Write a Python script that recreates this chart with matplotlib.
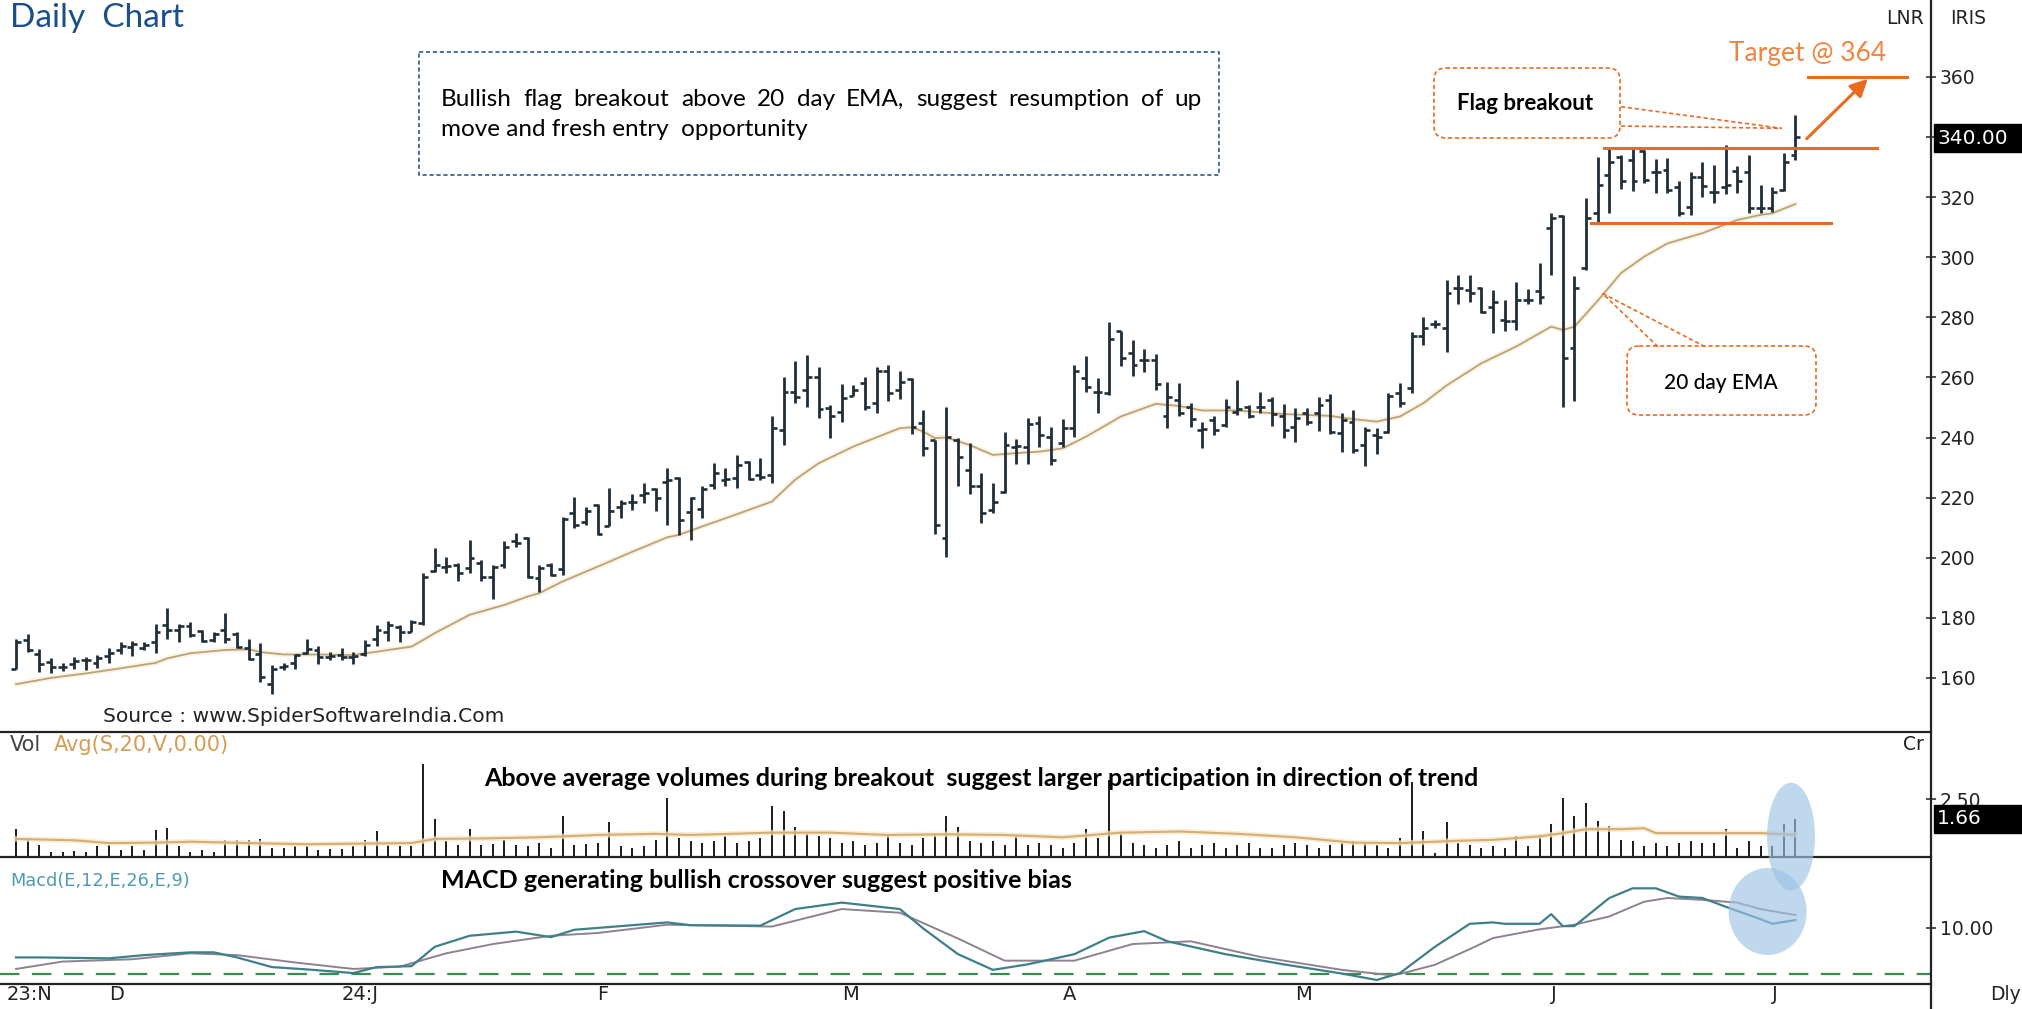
#!/usr/bin/env python3
"""Daily bar chart with 20 day EMA, volume and MACD panels and a flag breakout note."""

import matplotlib
matplotlib.use("Agg")
import matplotlib.pyplot as plt
from matplotlib.transforms import Affine2D
from matplotlib.patches import Rectangle, FancyBboxPatch, Ellipse
from matplotlib.lines import Line2D
import numpy as np

plt.rcParams["lines.scale_dashes"] = False

# ── Data (one value per trading day, 20 Nov 2023 .. 3 Jul 2024) ───────────────

opens = [
    163.0, 172.6, 168.1, 165.4, 163.7, 164.6, 166.0, 165.0, 167.2, 169.2,
    170.4, 170.1, 172.0, 177.6, 176.1, 177.2, 175.7, 172.6, 176.1, 174.6,
    169.8, 168.1, 158.1, 163.6, 164.8, 168.4, 169.2, 166.8, 167.6, 167.0,
    168.1, 173.1, 175.4, 177.1, 175.4, 178.2, 195.7, 197.0, 197.6, 196.5,
    198.2, 193.7, 197.6, 205.4, 206.5, 193.2, 197.6, 196.2, 215.0, 212.0,
    217.6, 210.6, 217.0, 218.7, 220.9, 222.8, 225.1, 226.4, 215.3, 216.1,
    224.2, 225.9, 226.4, 232.0, 227.5, 227.5, 242.5, 255.3, 255.8, 260.3,
    249.7, 248.6, 253.8, 258.3, 251.4, 262.0, 255.8, 259.4, 244.8, 239.2,
    206.5, 239.2, 229.2, 223.7, 215.9, 222.0, 236.8, 237.0, 244.7, 240.3,
    238.3, 243.1, 259.7, 255.3, 254.7, 275.3, 268.0, 265.8, 265.8, 247.0,
    252.5, 250.3, 242.5, 245.9, 244.2, 248.6, 250.3, 250.3, 252.5, 247.0,
    243.6, 248.3, 248.1, 252.5, 241.4, 245.3, 237.5, 240.9, 242.0, 254.7,
    256.4, 273.8, 277.8, 276.4, 289.7, 289.1, 289.7, 283.6, 279.1, 278.9,
    285.8, 288.6, 309.6, 313.7, 269.7, 296.3, 314.6, 327.4, 333.3, 332.2,
    335.5, 328.5, 329.1, 323.5, 316.6, 326.6, 321.8, 323.5, 328.8, 328.5,
    316.3, 316.3, 322.4, 334.0,
]
highs = [
    172.8, 174.5, 169.5, 166.5, 165.0, 166.8, 167.0, 167.6, 170.1, 172.0,
    172.4, 172.0, 178.1, 183.1, 178.1, 178.7, 176.1, 175.4, 181.7, 175.4,
    172.8, 171.7, 164.2, 165.0, 168.1, 172.8, 170.6, 168.7, 170.0, 168.7,
    172.6, 177.6, 179.1, 177.6, 179.3, 194.8, 203.2, 200.1, 198.2, 205.9,
    199.3, 197.6, 205.4, 208.2, 206.8, 197.6, 198.2, 213.7, 220.3, 217.0,
    217.9, 223.1, 219.2, 221.2, 224.8, 223.1, 229.8, 227.0, 220.3, 223.7,
    231.6, 229.8, 234.2, 232.3, 233.1, 247.0, 260.3, 265.3, 267.5, 263.6,
    250.8, 257.8, 257.5, 260.3, 263.6, 264.2, 262.0, 259.7, 249.2, 239.2,
    250.3, 239.8, 238.1, 228.1, 225.0, 242.0, 239.4, 246.4, 247.2, 243.6,
    246.1, 264.2, 267.0, 259.7, 278.6, 275.6, 272.5, 269.4, 267.7, 258.6,
    258.1, 251.6, 245.3, 247.0, 252.7, 259.2, 250.8, 255.3, 253.6, 251.2,
    249.7, 249.7, 253.6, 254.5, 248.1, 249.0, 243.6, 243.1, 254.7, 258.1,
    275.2, 280.0, 279.1, 292.5, 294.1, 294.1, 290.2, 289.1, 285.8, 291.9,
    289.3, 298.0, 314.6, 314.1, 293.6, 319.6, 333.5, 336.3, 334.0, 335.9,
    335.7, 332.6, 332.9, 325.2, 328.2, 331.8, 330.7, 337.4, 330.2, 334.0,
    324.1, 323.5, 334.8, 347.4,
]
lows = [
    162.8, 168.7, 162.0, 161.7, 162.4, 163.1, 162.6, 163.4, 165.0, 167.9,
    167.2, 169.2, 168.4, 173.1, 172.0, 173.5, 172.0, 172.0, 171.5, 169.8,
    165.9, 158.7, 154.8, 162.6, 162.8, 168.0, 164.6, 165.9, 166.1, 164.6,
    167.3, 170.6, 172.4, 172.1, 175.4, 177.6, 195.4, 195.0, 192.1, 194.8,
    192.1, 186.2, 196.5, 203.7, 193.2, 188.7, 193.9, 194.3, 209.8, 210.9,
    207.6, 210.4, 213.1, 215.9, 218.1, 215.4, 210.9, 207.6, 205.9, 213.1,
    222.8, 223.9, 223.1, 225.9, 225.7, 225.0, 237.5, 251.4, 250.3, 246.4,
    240.0, 245.3, 253.8, 249.3, 248.1, 252.0, 252.7, 241.2, 233.7, 207.9,
    200.4, 223.9, 221.2, 211.5, 214.8, 221.7, 231.2, 231.2, 237.0, 230.9,
    236.8, 240.1, 255.3, 248.1, 254.2, 263.8, 260.5, 261.9, 255.8, 243.1,
    247.0, 243.4, 236.4, 240.9, 243.6, 247.5, 246.4, 248.1, 243.9, 240.0,
    238.6, 244.2, 242.3, 241.2, 235.3, 235.0, 230.6, 234.5, 241.4, 250.3,
    254.7, 270.8, 276.4, 268.6, 284.5, 285.2, 281.3, 274.7, 275.3, 275.8,
    284.5, 284.5, 294.1, 250.3, 252.0, 295.8, 311.5, 314.8, 322.6, 322.2,
    324.8, 321.5, 321.5, 313.7, 314.1, 320.2, 318.0, 321.1, 321.5, 314.6,
    314.6, 315.2, 322.2, 332.4,
]
closes = [
    172.0, 169.2, 164.6, 163.7, 163.7, 165.7, 165.9, 166.5, 168.3, 170.6,
    171.2, 170.9, 175.3, 176.1, 177.2, 174.2, 172.2, 174.6, 173.1, 170.2,
    166.4, 160.4, 163.1, 163.8, 167.6, 169.5, 167.0, 167.2, 167.0, 167.2,
    170.9, 175.9, 177.6, 175.4, 178.7, 193.5, 197.6, 197.2, 195.0, 199.8,
    193.5, 197.0, 203.7, 204.8, 193.5, 196.5, 194.3, 212.8, 210.9, 215.6,
    207.9, 215.6, 218.1, 218.7, 221.4, 219.8, 225.7, 212.6, 219.8, 222.8,
    228.1, 226.1, 230.9, 226.1, 227.0, 243.1, 255.3, 253.6, 260.3, 249.4,
    247.0, 253.1, 255.8, 250.3, 262.0, 254.7, 258.6, 243.6, 236.4, 210.9,
    240.3, 233.6, 223.7, 214.8, 218.7, 237.5, 237.2, 244.5, 240.9, 232.5,
    243.1, 262.0, 256.7, 255.3, 272.7, 266.4, 264.2, 265.8, 257.8, 253.6,
    248.1, 246.1, 242.7, 242.5, 250.3, 249.4, 247.0, 250.3, 247.8, 242.5,
    246.4, 245.3, 250.8, 242.0, 245.8, 235.9, 242.5, 240.3, 253.8, 251.4,
    273.8, 276.4, 277.8, 288.2, 289.7, 288.2, 281.9, 285.2, 278.9, 285.8,
    285.8, 286.9, 313.0, 266.4, 289.7, 313.0, 324.1, 331.8, 325.2, 325.2,
    325.7, 328.5, 322.4, 314.6, 326.6, 323.7, 321.8, 324.1, 325.2, 316.3,
    316.3, 321.8, 331.8, 340.0,
]

# volume in crores
volume = [
    1.20, 0.74, 0.53, 0.20, 0.20, 0.24, 0.20, 0.49, 0.53, 0.31,
    0.49, 0.29, 1.17, 1.24, 0.46, 0.20, 0.29, 0.20, 0.74, 0.74,
    0.74, 0.77, 0.39, 0.39, 0.46, 0.46, 0.31, 0.34, 0.34, 0.46,
    0.74, 1.13, 0.53, 0.49, 0.49, 3.99, 1.63, 0.67, 0.53, 1.20,
    0.53, 0.57, 0.74, 0.53, 0.49, 0.60, 0.39, 1.77, 0.53, 0.57,
    0.60, 1.49, 0.46, 0.39, 0.46, 0.74, 2.53, 0.82, 0.67, 0.60,
    0.70, 0.90, 0.60, 0.70, 0.80, 2.20, 2.00, 1.30, 1.00, 0.90,
    0.80, 0.60, 0.70, 0.50, 0.60, 0.90, 0.60, 0.50, 0.80, 1.00,
    1.75, 1.30, 0.70, 0.60, 0.70, 0.50, 0.90, 0.50, 0.60, 0.50,
    0.40, 0.60, 1.20, 0.80, 3.30, 1.00, 0.60, 0.50, 0.40, 0.50,
    0.70, 0.40, 0.50, 0.60, 0.40, 0.50, 0.60, 0.40, 0.40, 0.50,
    0.60, 0.50, 0.40, 0.50, 0.60, 0.70, 0.60, 0.50, 0.40, 0.80,
    3.24, 1.10, 0.17, 1.49, 0.60, 0.53, 0.39, 0.46, 0.39, 0.89,
    0.46, 0.96, 1.41, 2.53, 1.77, 2.32, 1.57, 1.34, 0.74, 0.67,
    0.49, 0.60, 0.49, 0.60, 0.67, 0.60, 0.60, 1.20, 0.39, 0.67,
    0.46, 0.46, 1.43, 1.66,
]

# 20 day EMA (bar index, value)
ema_idx = [0, 3, 6, 9, 12, 13, 15, 18, 20, 21, 23, 26, 29, 30, 31, 32, 34, 35, 36, 39,
           42, 44, 45, 47, 50, 53, 56, 57, 59, 62, 65, 67, 69, 72, 75, 76, 77, 78, 79, 80,
           82, 84, 86, 88, 90, 92, 93, 95, 98, 100, 102, 105, 109, 113, 115, 117, 119, 121,
           123, 126, 129, 132, 133, 134, 136, 138, 140, 142, 145, 148, 150, 151, 153]
ema_val = [157.9, 160.0, 161.5, 163.2, 165.0, 166.5, 168.2, 169.3, 169.5, 168.6,
           167.8, 167.8, 167.6, 168.2, 168.7, 169.3, 170.4, 172.6, 174.9, 181.0,
           184.3, 187.1, 188.2, 192.1, 197.0, 202.0, 206.8, 207.6, 210.4, 214.5,
           218.7, 226.0, 231.4, 237.0, 241.6, 243.1, 243.4, 242.0, 239.8, 240.0,
           237.5, 234.2, 234.8, 235.3, 236.4, 240.3, 242.5, 247.0, 251.2, 250.5,
           249.0, 249.0, 247.8, 247.2, 246.1, 245.3, 247.0, 251.4, 257.3, 264.7,
           270.3, 276.9, 275.8, 276.9, 285.5, 294.7, 300.2, 304.6, 308.0, 312.4,
           314.1, 314.6, 317.7]

# 20 day simple average of volume
vavg_idx = [0, 5, 8, 12, 15, 20, 25, 30, 34, 36, 40, 45, 50, 55, 58, 65, 70, 75, 80, 85,
            90, 95, 100, 105, 110, 115, 119, 124, 127, 131, 132, 133, 135, 138, 140, 141,
            150, 153]
vavg_val = [0.78, 0.72, 0.60, 0.62, 0.66, 0.60, 0.55, 0.58, 0.60, 0.78, 0.80, 0.85,
            0.95, 1.00, 0.95, 1.05, 1.05, 0.95, 0.98, 0.95, 0.85, 1.05, 1.10, 1.00,
            0.85, 0.62, 0.60, 0.70, 0.74, 0.89, 0.96, 1.03, 1.20, 1.20, 1.24, 1.03,
            1.03, 0.96]

# MACD(12,26) and its 9 day signal
macd_idx = [0, 2, 8, 11, 15, 17, 19, 22, 25, 29, 31, 34, 36, 39, 43, 46, 48, 52, 56, 58,
            64, 67, 71, 76, 78, 81, 84, 87, 91, 94, 97, 99, 104, 109, 114, 117, 119, 122,
            125, 127, 128, 131, 132, 133, 134, 137, 139, 141, 143, 145, 147, 150, 151, 153]
macd_val = [3.6, 3.6, 3.4, 4.1, 4.7, 4.7, 3.6, 1.5, 1.0, 0.2, 1.5, 1.7, 5.9, 8.3, 9.2,
            8.0, 9.6, 10.4, 11.2, 10.6, 10.5, 14.1, 15.5, 14.1, 9.9, 4.3, 0.9, 2.1, 4.3,
            7.9, 9.3, 7.1, 4.3, 2.1, 0.1, -1.3, 0.2, 5.9, 10.9, 11.2, 10.9, 10.9, 13.0,
            10.4, 10.4, 16.5, 18.6, 18.6, 16.8, 16.5, 14.6, 11.9, 10.9, 11.7]
sig_idx = [0, 4, 10, 15, 19, 24, 29, 33, 37, 41, 46, 50, 56, 58, 65, 71, 76, 81, 85, 91,
           96, 101, 107, 114, 118, 119, 122, 125, 127, 131, 134, 137, 140, 142, 145, 148,
           150, 153]
sig_val = [1.1, 2.7, 3.2, 4.5, 4.1, 2.5, 1.1, 1.6, 4.5, 6.5, 8.3, 8.9, 10.7, 10.6, 10.3,
           14.1, 13.3, 7.7, 2.9, 2.9, 6.5, 7.1, 3.7, 0.9, -0.2, 0.0, 2.0, 5.4, 7.8, 9.7,
           10.7, 12.5, 15.7, 16.5, 16.1, 15.5, 14.1, 12.8]

month_idx = [0, 8, 28, 50, 71, 90, 110, 132, 151]
month_lbl = ["23:N", "D", "24:J", "F", "M", "A", "M", "J", "J"]

price_ticks = [160, 180, 200, 220, 240, 260, 280, 300, 320, 340, 360]
last_price = 340.00
last_volume = 1.66

# drawn levels of the flag pattern
flag_top = 336.5
flag_bottom = 311.3
target_level = 360.0

# ── Style ─────────────────────────────────────────────────────────────────────

W, H = 2022, 1009
AXIS_X = 1931
PRICE_BOT, VOL_BOT, MACD_BOT = 732, 857, 984
XLIM = (-1.38, 164.66)

BAR = "#1f2e38"
INK = "#222222"
EMA_C = "#bca27a"
VAVG_C = "#d6ad74"
MACD_C = "#3f7f8a"
SIG_C = "#8e8290"
GREEN = "#3c8a50"
ORANGE = "#eb6a1f"
ORANGE_TXT = "#f0843f"
BOX_BLUE = "#2e5a8f"
SANS = "Lato"
CHART = "DejaVu Sans"

fig = plt.figure(figsize=(W / 100, H / 100), dpi=100)
fig.patch.set_facecolor("white")
PX = Affine2D().scale(1 / W, -1 / H).translate(0, 1) + fig.transFigure


def panel(top, bottom):
    ax = fig.add_axes([0, 1 - bottom / H, AXIS_X / W, (bottom - top) / H])
    ax.set_xlim(*XLIM)
    ax.set_xticks([])
    for side in ("top", "left", "right"):
        ax.spines[side].set_visible(False)
    ax.spines["bottom"].set_color(INK)
    ax.spines["bottom"].set_linewidth(1.6)
    ax.yaxis.tick_right()
    ax.tick_params(axis="y", direction="inout", length=7, width=1.1, pad=3,
                   labelsize=13.5, colors=INK)
    ax.set_facecolor("none")
    return ax


def ftext(x, y, s, **kw):
    return fig.text(x, y, s, transform=PX, **kw)


def justified(text, x0, x1, y, **kw):
    renderer = fig.canvas.get_renderer()
    words = text.split()
    arts = [ftext(0, y, w, va="center", **kw) for w in words]
    widths = [a.get_window_extent(renderer).width for a in arts]
    gap = (x1 - x0 - sum(widths)) / (len(words) - 1)
    x = x0
    for a, w in zip(arts, widths):
        a.set_x(x)
        x += w + gap


idx = np.arange(len(closes))

# ── Price panel ───────────────────────────────────────────────────────────────
ax = panel(0, PRICE_BOT)
ax.set_ylim(142.0, 385.6)
ax.set_yticks(price_ticks, [str(t) if t != 340 else "" for t in price_ticks])

ax.plot(ema_idx, ema_val, color="#f6ecd0", lw=4, alpha=0.6, solid_capstyle="round")
ax.plot(ema_idx, ema_val, color=EMA_C, lw=1.3)

ax.vlines(idx, lows, highs, color=BAR, lw=2.0)
ax.hlines(opens, idx - 0.42, idx, color=BAR, lw=1.9)
ax.hlines(closes, idx, idx + 0.42, color=BAR, lw=1.9)

ax.plot([136.5, 160.0], [flag_top, flag_top], color=ORANGE, lw=2.2)
ax.plot([135.4, 156.1], [flag_bottom, flag_bottom], color=ORANGE, lw=2.2)
ax.plot([154.1, 162.6], [target_level, target_level], color=ORANGE, lw=2.2)
ax.annotate("", xy=(159.4, target_level), xytext=(153.8, 338.8),
            arrowprops=dict(arrowstyle="-|>", color=ORANGE, lw=2.2, mutation_scale=26))

# ── Volume panel ──────────────────────────────────────────────────────────────
vx = panel(PRICE_BOT, VOL_BOT)
vx.set_ylim(0, 5.39)
vx.set_yticks([2.5], ["2.50"])
vx.vlines(idx, 0, volume, color="#1a1a1a", lw=1.4)
vx.plot(vavg_idx, vavg_val, color="#f6e7c8", lw=4, alpha=0.7)
vx.plot(vavg_idx, vavg_val, color=VAVG_C, lw=1.5)

# ── MACD panel ────────────────────────────────────────────────────────────────
mx = panel(VOL_BOT, MACD_BOT)
mx.set_ylim(-2.17, 25.4)
mx.set_yticks([10], ["10.00"])
mx.axhline(0, color=GREEN, lw=1.6, dashes=(14, 9))
mx.plot(sig_idx, sig_val, color=SIG_C, lw=1.4)
mx.plot(macd_idx, macd_val, color=MACD_C, lw=1.6)

# date labels
for i, lab in zip(month_idx, month_lbl):
    x_px = mx.transData.transform((i, 0))[0]
    ftext(x_px + (-9 if i == 0 else 0), 995, lab, ha="left", va="center",
          family=CHART, fontsize=14, color=INK)

# right axis line, full height
fig.add_artist(Line2D([AXIS_X, AXIS_X], [0, H], transform=PX, color=INK, lw=1.6))

# last value boxes
fig.add_artist(Rectangle((1934, 124), 88, 28, transform=PX, color="black"))
ftext(1937, 138, f"{last_price:.2f}", va="center", family=CHART, fontsize=14.5, color="white")
fig.add_artist(Rectangle((1934, 805), 88, 28, transform=PX, color="black"))
ftext(1937, 819, f"{last_volume:.2f}", va="center", family=CHART, fontsize=14.5, color="white")

# chart software labels
ftext(1924, 18, "LNR", ha="right", va="center", family=CHART, fontsize=13.5, color=INK)
ftext(1950, 18, "IRIS", ha="left", va="center", family=CHART, fontsize=13.5, color=INK)
ftext(1924, 745, "Cr", ha="right", va="center", family=CHART, fontsize=13.5, color=INK)
ftext(1990, 995, "Dly", ha="left", va="center", family=CHART, fontsize=13.5, color=INK)
ftext(103, 716, "Source : www.SpiderSoftwareIndia.Com", va="center", family=CHART,
      fontsize=14.6, color=INK)
ftext(10, 745, "Vol", va="center", family=CHART, fontsize=15, color="#444444")
ftext(54, 745, "Avg(S,20,V,0.00)", va="center", family=CHART, fontsize=15, color="#d49d55")
ftext(10, 881, "Macd(E,12,E,26,E,9)", va="center", family=CHART, fontsize=12.8,
      color="#4f9bb5")

# ── Annotations ───────────────────────────────────────────────────────────────
ftext(10, 27, "Daily  Chart", va="baseline", family=SANS, fontsize=24, color="#1b4f8a")

fig.add_artist(Rectangle((419, 52), 800, 123, transform=PX, fill=False,
                         ec=BOX_BLUE, lw=1.2, ls=(0, (3, 2))))
justified("Bullish flag breakout above 20 day EMA, suggest resumption of up",
          441, 1202, 99, family=SANS, fontsize=17.5, color="black")
ftext(441, 130, "move and fresh entry  opportunity", va="center", family=SANS,
      fontsize=17.5, color="black")

fig.add_artist(FancyBboxPatch((1434, 68), 186, 70, transform=PX,
                              boxstyle="round,pad=0,rounding_size=12", fill=False,
                              ec=ORANGE, lw=1.2, ls=(0, (3, 2))))
ftext(1525, 103, "Flag breakout", ha="center", va="center", family=SANS, fontsize=16,
      weight="bold", color="black")
for y0 in (106.7, 126):
    fig.add_artist(Line2D([1621, 1781.7], [y0, 128.3], transform=PX, color=ORANGE,
                          lw=1.2, ls=(0, (3, 2))))

fig.add_artist(FancyBboxPatch((1627, 346), 189, 69, transform=PX,
                              boxstyle="round,pad=0,rounding_size=12", fill=False,
                              ec=ORANGE, lw=1.2, ls=(0, (3, 2))))
ftext(1721, 383, "20 day EMA", ha="center", va="center", family=SANS, fontsize=15,
      weight="medium", color="black")
for x0 in (1658, 1705):
    fig.add_artist(Line2D([x0, 1602.3], [346.7, 293.3], transform=PX, color=ORANGE,
                          lw=1.2, ls=(0, (3, 2))))

ftext(1808, 54, "Target @ 364", ha="center", va="center", family=SANS, fontsize=19,
      color=ORANGE_TXT)

ftext(484, 779, "Above average volumes during breakout  suggest larger participation "
      "in direction of trend", va="center", family=SANS, fontsize=18, weight="bold",
      color="black")
ftext(441, 881, "MACD generating bullish crossover suggest positive bias", va="center",
      family=SANS, fontsize=18, weight="bold", color="black")

fig.add_artist(Ellipse((1791, 836.7), 48, 108, transform=PX, color="#9dc3e6", alpha=0.65,
                       lw=0))
fig.add_artist(Ellipse((1767.6, 911.5), 78, 87, transform=PX, color="#9dc3e6", alpha=0.65,
                       lw=0))

fig.savefig("out.png", dpi=100)
plt.close(fig)
